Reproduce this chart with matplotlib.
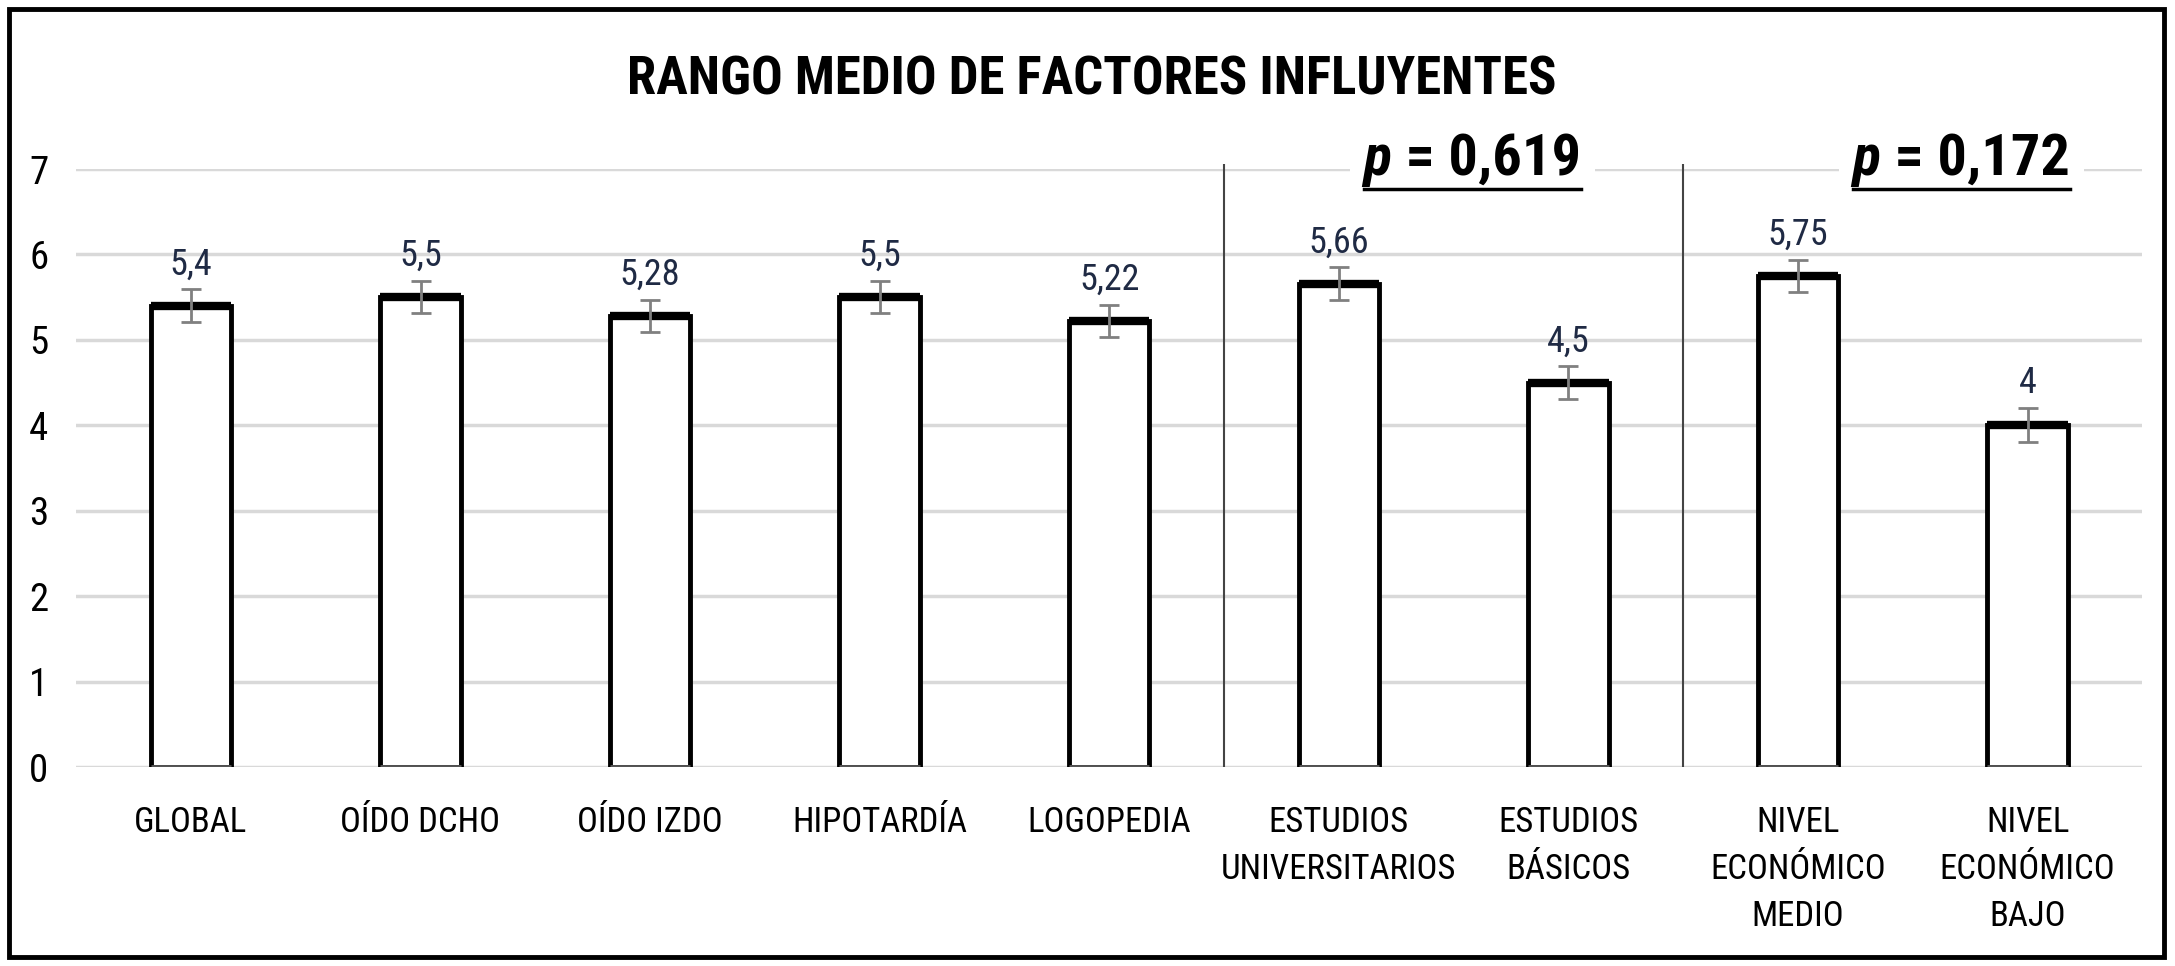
import matplotlib.pyplot as plt
from matplotlib.lines import Line2D
from matplotlib.patches import Rectangle

# data
categories = ['GLOBAL', 'OÍDO DCHO', 'OÍDO IZDO', 'HIPOTARDÍA', 'LOGOPEDIA',
              'ESTUDIOS\nUNIVERSITARIOS', 'ESTUDIOS\nBÁSICOS',
              'NIVEL\nECONÓMICO\nMEDIO', 'NIVEL\nECONÓMICO\nBAJO']
values = [5.4, 5.5, 5.28, 5.5, 5.22, 5.66, 4.5, 5.75, 4.0]
errors = [0.19, 0.19, 0.19, 0.19, 0.19, 0.19, 0.19, 0.19, 0.2]
separators = [4.5, 6.5]
p_labels = ['0,619', '0,172']
p_centers = [5.59, 7.72]
yticks = [0, 1, 2, 3, 4, 5, 6, 7]

FONT = ['Roboto Condensed', 'Roboto', 'DejaVu Sans']
plt.rcParams['font.family'] = FONT

fig = plt.figure(figsize=(21.75, 9.66), dpi=100)
ax = fig.add_axes([0.035, 0.206, 0.95, 0.619])

x = list(range(len(values)))
w = 0.35
ax.bar(x, values, width=w, color='white', edgecolor='black', linewidth=3.5, zorder=3)
# thick top edge and grey base like the original
ax.hlines(values, [i - w / 2 for i in x], [i + w / 2 for i in x], color='black', linewidth=6, zorder=4)
ax.hlines([0] * len(x), [i - w / 2 for i in x], [i + w / 2 for i in x], color='#555555', linewidth=3.5, zorder=4)
ax.errorbar(x, values, yerr=errors, fmt='none', ecolor='#808080', elinewidth=2, capsize=7, capthick=2, zorder=5)

for xi, v, e in zip(x, values, errors):
    ax.annotate(f'{v:g}'.replace('.', ','), (xi, v + e), xytext=(0, 5), textcoords='offset points',
                ha='center', va='bottom', fontsize=26, color='#1f2a44', zorder=6)

ax.vlines(separators, 0, 7.06, color='#444444', linewidth=1.5, zorder=2, clip_on=False)

ax.set_xlim(-0.5, 8.5)
ax.set_ylim(0, 7)
ax.set_yticks(yticks)
ax.set_yticklabels([str(t) for t in yticks], fontsize=28)
ax.set_xticks(x)
ax.set_xticklabels(categories, fontsize=25, linespacing=1.55, va='top')
ax.tick_params(length=0)
ax.tick_params(axis='y', pad=20)
ax.tick_params(axis='x', pad=28)
ax.grid(axis='y', color='#d9d9d9', linewidth=2.5, zorder=0)
ax.set_axisbelow(True)
for s in ax.spines.values():
    s.set_visible(False)

fig.text(0.502, 0.917, 'RANGO MEDIO DE FACTORES INFLUYENTES', ha='center', va='center',
         fontsize=38, fontweight='bold')

# p-values: italic p, bold rest, underlined, white box hides the gridline
p_texts = []
for xc, lab in zip(p_centers, p_labels):
    t2 = ax.text(xc - 0.36, 7.11, ' = ' + lab, ha='left', va='center', fontsize=42,
                 fontweight='bold', zorder=6, bbox=dict(facecolor='white', edgecolor='none', pad=10))
    t1 = ax.text(xc - 0.36, 7.11, 'p', fontsize=42, fontweight='bold', fontstyle='italic',
                 ha='right', va='center', zorder=7, bbox=dict(facecolor='white', edgecolor='none', pad=10))
    p_texts.append((t1, t2))

fig.canvas.draw()
inv = fig.transFigure.inverted()
for t1, t2 in p_texts:
    b1 = t1.get_window_extent()
    b2 = t2.get_window_extent()
    x0, y0 = inv.transform((b1.x0, min(b1.y0, b2.y0) - 2))
    x1, _ = inv.transform((b2.x1, b2.y0))
    fig.add_artist(Line2D([x0, x1], [y0, y0], color='black', linewidth=2.5, zorder=8))

fig.add_artist(Rectangle((0.004, 0.009), 0.991, 0.982, transform=fig.transFigure,
                         fill=False, edgecolor='black', linewidth=3.5))

fig.savefig('out.png', dpi=100)
